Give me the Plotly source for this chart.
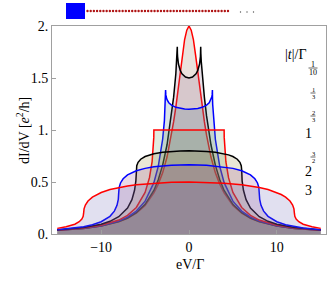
import plotly.graph_objects as go

# ---------------- data ----------------
t_labels = ["1/10", "1/3", "2/3", "1", "3/2", "2", "3"]

V_t10 = [-15, -12, -10, -9, -8, -7, -6, -5, -4, -3.5, -3, -2.5, -2, -1.75, -1.5, -1.25, -1, -0.75, -0.5, -0.25,
         0, 0.25, 0.5, 0.75, 1, 1.25, 1.5, 1.75, 2, 2.5, 3, 3.5, 4, 5, 6, 7, 8, 9, 10, 12, 15]
G_t10 = [0.035, 0.054, 0.077, 0.094, 0.118, 0.151, 0.2, 0.275, 0.395, 0.48, 0.59, 0.74, 0.95, 1.08, 1.22, 1.38, 1.55, 1.72, 1.87, 1.96,
         2.0, 1.96, 1.87, 1.72, 1.55, 1.38, 1.22, 1.08, 0.95, 0.74, 0.59, 0.48, 0.395, 0.275, 0.2, 0.151, 0.118, 0.094, 0.077, 0.054, 0.035]

V_t13 = [-15, -12, -10, -8, -7, -6, -5, -4, -3.5, -3, -2.5, -2, -1.75, -1.5, -1.4, -1.35, -1.333, -1.32, -1.3, -1.2, -1.0, -0.8, -0.4,
         0, 0.4, 0.8, 1.0, 1.2, 1.3, 1.32, 1.333, 1.35, 1.4, 1.5, 1.75, 2, 2.5, 3, 3.5, 4, 5, 6, 7, 8, 10, 12, 15]
G_t13 = [0.035, 0.054, 0.078, 0.119, 0.154, 0.205, 0.285, 0.419, 0.521, 0.662, 0.858, 1.135, 1.316, 1.54, 1.655, 1.736, 1.8, 1.738, 1.706, 1.634, 1.573, 1.54, 1.509,
         1.5, 1.509, 1.54, 1.573, 1.634, 1.706, 1.738, 1.8, 1.736, 1.655, 1.54, 1.316, 1.135, 0.858, 0.662, 0.521, 0.419, 0.285, 0.205, 0.154, 0.119, 0.078, 0.054, 0.035]

V_t23 = [-15, -12, -10, -8, -7, -6, -5, -4, -3.5, -3, -2.8, -2.7, -2.68, -2.667, -2.64, -2.6, -2.5, -2.3, -2, -1.5, -1, -0.5,
         0, 0.5, 1, 1.5, 2, 2.3, 2.5, 2.6, 2.64, 2.667, 2.68, 2.7, 2.8, 3, 3.5, 4, 5, 6, 7, 8, 10, 12, 15]
G_t23 = [0.036, 0.055, 0.08, 0.124, 0.162, 0.22, 0.316, 0.494, 0.65, 0.911, 1.09, 1.243, 1.296, 1.385, 1.34, 1.319, 1.291, 1.262, 1.239, 1.218, 1.207, 1.202,
         1.2, 1.202, 1.207, 1.218, 1.239, 1.262, 1.291, 1.319, 1.34, 1.385, 1.296, 1.243, 1.09, 0.911, 0.65, 0.494, 0.316, 0.22, 0.162, 0.124, 0.08, 0.055, 0.036]

V_t1 = [-15, -12, -10, -8, -7, -6, -5, -4.5, -4.2, -4.05, -4.01, -4, -2,
        0, 2, 4, 4.01, 4.05, 4.2, 4.5, 5, 6, 7, 8, 10, 12, 15]
G_t1 = [0.036, 0.057, 0.084, 0.134, 0.179, 0.255, 0.4, 0.542, 0.695, 0.843, 0.929, 1, 1,
        1, 1, 1, 0.929, 0.843, 0.695, 0.542, 0.4, 0.255, 0.179, 0.134, 0.084, 0.057, 0.036]

V_t32 = [-15, -12, -10, -9, -8, -7, -6.5, -6.2, -6.05, -6, -5.95, -5.8, -5.5, -5, -4.5, -4, -3, -2, -1,
         0, 1, 2, 3, 4, 4.5, 5, 5.5, 5.8, 5.95, 6, 6.05, 6.2, 6.5, 7, 8, 9, 10, 12, 15]
G_t32 = [0.038, 0.062, 0.094, 0.122, 0.166, 0.249, 0.33, 0.42, 0.511, 0.615, 0.656, 0.689, 0.719, 0.745, 0.761, 0.772, 0.786, 0.794, 0.799,
         0.8, 0.799, 0.794, 0.786, 0.772, 0.761, 0.745, 0.719, 0.689, 0.656, 0.615, 0.511, 0.42, 0.33, 0.249, 0.166, 0.122, 0.094, 0.062, 0.038]

V_t2 = [-15, -13, -12, -11, -10, -9, -8.5, -8.2, -8.05, -8, -7.95, -7.8, -7.5, -7, -6.5, -6, -5, -4, -2,
        0, 2, 4, 5, 6, 6.5, 7, 7.5, 7.8, 7.95, 8, 8.05, 8.2, 8.5, 9, 10, 11, 12, 13, 15]
G_t2 = [0.041, 0.058, 0.07, 0.089, 0.118, 0.17, 0.22, 0.276, 0.333, 0.4, 0.449, 0.491, 0.531, 0.568, 0.591, 0.608, 0.631, 0.646, 0.662,
        0.667, 0.662, 0.646, 0.631, 0.608, 0.591, 0.568, 0.531, 0.491, 0.449, 0.4, 0.333, 0.276, 0.22, 0.17, 0.118, 0.089, 0.07, 0.058, 0.041]

V_t3 = [-15, -14, -13, -12.5, -12.2, -12.05, -12, -11.95, -11.8, -11.5, -11, -10.5, -10, -9, -8, -7, -6, -4, -2,
        0, 2, 4, 6, 7, 8, 9, 10, 10.5, 11, 11.5, 11.8, 11.95, 12, 12.05, 12.2, 12.5, 13, 14, 15]
G_t3 = [0.054, 0.069, 0.094, 0.118, 0.143, 0.17, 0.2, 0.242, 0.279, 0.317, 0.355, 0.38, 0.399, 0.427, 0.447, 0.462, 0.474, 0.489, 0.497,
        0.5, 0.497, 0.489, 0.474, 0.462, 0.447, 0.427, 0.399, 0.38, 0.355, 0.317, 0.279, 0.242, 0.2, 0.17, 0.143, 0.118, 0.094, 0.069, 0.054]

x_ticks = [-10, 0, 10]
x_ticktext = ["\u221210", "0", "10"]
y_ticks = [0, 0.5, 1, 1.5, 2]
y_ticktext = ["0.", "0.5", "1.", "1.5", "2."]

# ---------------- styling ----------------
series = [
    (V_t10, G_t10, "#ff0000", "rgba(150,110,80,0.2)"),
    (V_t13, G_t13, "#000000", "rgba(140,100,140,0.2)"),
    (V_t23, G_t23, "#0000ff", "rgba(70,115,130,0.2)"),
    (V_t1, G_t1, "#ff0000", "rgba(100,155,95,0.2)"),
    (V_t32, G_t32, "#000000", "rgba(145,130,50,0.2)"),
    (V_t2, G_t2, "#0000ff", "rgba(150,70,140,0.2)"),
    (V_t3, G_t3, "#ff0000", "rgba(105,100,180,0.2)"),
]

SERIF = "Liberation Serif, Times New Roman, serif"
W, H = 332, 283
L, R, T, B = 52, 326, 26, 234


def xp(px):
    return (px - L) / (R - L)


def yp(py):
    return (B - py) / (B - T)


fig = go.Figure()
for (vx, gy, lc, fc), lab in zip(series, t_labels):
    fig.add_trace(go.Scatter(x=vx, y=gy, mode="lines", name=lab,
                             line=dict(color=lc, width=1.5),
                             fill="tozeroy", fillcolor=fc, hoverinfo="skip"))

annotations = []
annotations.append(dict(x=xp(308), y=yp(46), xref="paper", yref="paper",
                        text="|<i>t</i>|/\u0393", showarrow=False, borderpad=0,
                        font=dict(family=SERIF, size=14, color="black")))
# fractions (numerator, denominator, centre y, font size, bar half-width)
fracs = [("1", "10", 68, 8, 4.5), ("1", "3", 93, 6.5, 2.5), ("2", "3", 116, 6.5, 2.5), ("3", "2", 157, 6.5, 2.5)]
shapes = []
for num, den, cy, fs, hw in fracs:
    off = 0.5 * fs
    annotations.append(dict(x=xp(313), y=yp(cy - off), xref="paper", yref="paper", text=num,
                            xanchor="center", yanchor="middle", showarrow=False, borderpad=0,
                            font=dict(family=SERIF, size=fs, color="black")))
    annotations.append(dict(x=xp(313), y=yp(cy + off + 0.3), xref="paper", yref="paper", text=den,
                            xanchor="center", yanchor="middle", showarrow=False, borderpad=0,
                            font=dict(family=SERIF, size=fs, color="black")))
    shapes.append(dict(type="line", xref="paper", yref="paper", x0=xp(313 - hw), x1=xp(313 + hw),
                       y0=yp(cy), y1=yp(cy), line=dict(color="black", width=0.6)))
for txt, cy in [("1", 133), ("2", 180), ("3", 199)]:
    annotations.append(dict(x=xp(313), y=yp(cy), xref="paper", yref="paper", text=txt,
                            showarrow=False, borderpad=0,
                            font=dict(family=SERIF, size=14, color="black")))

# axis titles
annotations.append(dict(x=xp(12), y=yp(131), xref="paper", yref="paper",
                        text="dI/dV [<i>e</i><sup>2</sup>/h]", textangle=-90, showarrow=False,
                        font=dict(family=SERIF, size=14, color="black")))
annotations.append(dict(x=xp(190), y=yp(274), xref="paper", yref="paper",
                        text="eV/\u0393", showarrow=False,
                        font=dict(family=SERIF, size=14, color="black")))

# schematic above the plot: blue square, dotted chain, ellipsis
shapes.append(dict(type="rect", xref="paper", yref="paper", x0=xp(66), x1=xp(85), y0=yp(19), y1=yp(3),
                   fillcolor="#0000ff", line=dict(color="#0000ff", width=0)))
n_dots = 45
for i in range(n_dots):
    cx = 87.5 + i * (228 - 87.5) / (n_dots - 1)
    shapes.append(dict(type="circle", xref="paper", yref="paper",
                       x0=xp(cx - 1.2), x1=xp(cx + 1.2), y0=yp(11 + 1.2), y1=yp(11 - 1.2),
                       fillcolor="#b01515", line=dict(width=0)))
for cx in [240.5, 247, 253.5]:
    shapes.append(dict(type="circle", xref="paper", yref="paper",
                       x0=xp(cx - 0.7), x1=xp(cx + 0.7), y0=yp(12 + 0.7), y1=yp(12 - 0.7),
                       fillcolor="#555555", line=dict(width=0)))

axis_common = dict(showgrid=False, zeroline=False, showline=True, mirror=True,
                   linecolor="#a0a0a0", linewidth=1, ticks="inside", ticklen=4,
                   tickcolor="#a0a0a0", tickfont=dict(family=SERIF, size=14, color="black"))

fig.update_layout(
    width=W, height=H,
    margin=dict(l=L, r=W - R, t=T, b=H - B, pad=0),
    paper_bgcolor="white", plot_bgcolor="white",
    showlegend=False,
    xaxis=dict(range=[-15.6, 15.6], tickvals=x_ticks, ticktext=x_ticktext, **axis_common),
    yaxis=dict(range=[0, 2], tickvals=y_ticks, ticktext=y_ticktext, **axis_common),
    annotations=annotations, shapes=shapes,
)

# remove the default page margin so the figure sits at the window's top-left corner
fig.write_html("out.html", config={"displayModeBar": False, "staticPlot": True},
               post_script="document.body.style.margin='0px';document.body.style.overflow='hidden';")
